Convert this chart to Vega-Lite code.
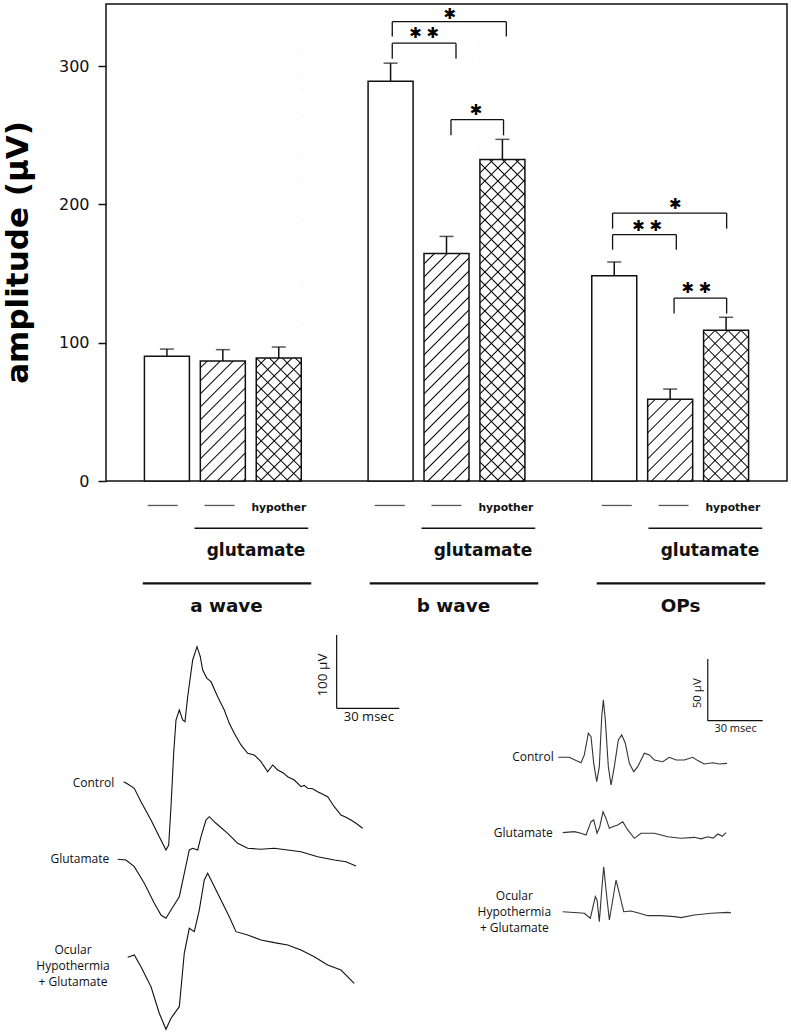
{
"$schema":"https://vega.github.io/schema/vega-lite/v6.json",
"background":"white",
"padding":{"left":1,"top":3,"right":4,"bottom":4},
"bounds":"flush",
"spacing":0,
"config":{"view":{"stroke":null},"text":{"font":"DejaVu Sans","color":"#111"}},
"datasets":{
"bars":[
{"wave":"a wave","cond":"control","pos":1,"mean":90.2,"upper":95.4},
{"wave":"a wave","cond":"glutamate","pos":2,"mean":86.8,"upper":95.0},
{"wave":"a wave","cond":"hypothermia","pos":3,"mean":88.9,"upper":96.9},
{"wave":"b wave","cond":"control","pos":5,"mean":289.2,"upper":302.2},
{"wave":"b wave","cond":"glutamate","pos":6,"mean":164.6,"upper":176.9},
{"wave":"b wave","cond":"hypothermia","pos":7,"mean":232.6,"upper":247.1},
{"wave":"OPs","cond":"control","pos":9,"mean":148.5,"upper":158.4},
{"wave":"OPs","cond":"glutamate","pos":10,"mean":59.1,"upper":66.5},
{"wave":"OPs","cond":"hypothermia","pos":11,"mean":109.0,"upper":118.4}
],
"brackets":[
{"start":5.03,"end":7.07,"h":332.2,"low":321.5},
{"start":5.03,"end":6.17,"h":316.7,"low":305.4},
{"start":6.08,"end":7.02,"h":261.3,"low":250.0},
{"start":8.97,"end":11.01,"h":193.8,"low":182.5},
{"start":8.97,"end":10.11,"h":178.2,"low":167.3},
{"start":10.07,"end":11.01,"h":132.3,"low":121.1}
],
"stars":[
{"x":6.06,"y":337.5,"label":"✱"},
{"x":5.60,"y":324.0,"label":"✱ ✱"},
{"x":6.53,"y":268.5,"label":"✱"},
{"x":10.09,"y":200.6,"label":"✱"},
{"x":9.59,"y":184.7,"label":"✱ ✱"},
{"x":10.47,"y":139.8,"label":"✱ ✱"}
],
"groups":[
{"group":"a wave","ctrl":1,"glu":2,"hyp":3},
{"group":"b wave","ctrl":5,"glu":6,"hyp":7},
{"group":"OPs","ctrl":9,"glu":10,"hyp":11}
],
"erg":[
{"trace":"Control","t":8.48,"v":338.6},{"trace":"Control","t":10.40,"v":335.5},{"trace":"Control","t":13.56,"v":329.6},{"trace":"Control","t":16.77,"v":311.3},{"trace":"Control","t":21.57,"v":286.4},{"trace":"Control","t":25.54,"v":263.6},{"trace":"Control","t":28.75,"v":245.5},{"trace":"Control","t":30.05,"v":252.3},{"trace":"Control","t":31.15,"v":304.5},{"trace":"Control","t":32.44,"v":377.3},{"trace":"Control","t":33.55,"v":422.7},{"trace":"Control","t":35.13,"v":436.4},{"trace":"Control","t":36.76,"v":422.7},{"trace":"Control","t":37.86,"v":420.4},{"trace":"Control","t":39.15,"v":454.5},{"trace":"Control","t":41.55,"v":504.6},{"trace":"Control","t":43.61,"v":522.7},{"trace":"Control","t":45.19,"v":509.1},{"trace":"Control","t":46.34,"v":490.9},{"trace":"Control","t":48.40,"v":479.6},{"trace":"Control","t":50.32,"v":475.0},{"trace":"Control","t":53.53,"v":454.5},{"trace":"Control","t":56.69,"v":436.4},{"trace":"Control","t":59.09,"v":418.2},{"trace":"Control","t":61.48,"v":404.6},{"trace":"Control","t":64.70,"v":388.7},{"trace":"Control","t":67.91,"v":377.3},{"trace":"Control","t":71.07,"v":375.0},{"trace":"Control","t":74.28,"v":365.9},{"trace":"Control","t":77.49,"v":352.2},{"trace":"Control","t":79.89,"v":361.4},{"trace":"Control","t":82.28,"v":354.6},{"trace":"Control","t":84.6,"v":351.2},{"trace":"Control","t":85.7,"v":348.9},{"trace":"Control","t":87.08,"v":345.4},{"trace":"Control","t":90.24,"v":340.9},{"trace":"Control","t":93.45,"v":331.8},{"trace":"Control","t":95.0,"v":333.5},{"trace":"Control","t":96.66,"v":329.6},{"trace":"Control","t":99.0,"v":329.0},{"trace":"Control","t":101.45,"v":325.0},{"trace":"Control","t":106.25,"v":318.2},{"trace":"Control","t":109.41,"v":304.5},{"trace":"Control","t":112.62,"v":293.2},{"trace":"Control","t":115.0,"v":290.0},{"trace":"Control","t":117.41,"v":286.4},{"trace":"Control","t":120.0,"v":281.5},{"trace":"Control","t":123.02,"v":275.1},
{"trace":"Glutamate","t":5.61,"v":232.8},{"trace":"Glutamate","t":9.58,"v":231.8},{"trace":"Glutamate","t":13.56,"v":222.7},{"trace":"Glutamate","t":18.35,"v":200.1},{"trace":"Glutamate","t":23.15,"v":172.8},{"trace":"Glutamate","t":26.36,"v":156.8},{"trace":"Glutamate","t":28.75,"v":152.3},{"trace":"Glutamate","t":31.15,"v":163.6},{"trace":"Glutamate","t":35.13,"v":181.8},{"trace":"Glutamate","t":37.52,"v":213.7},{"trace":"Glutamate","t":39.92,"v":245.5},{"trace":"Glutamate","t":41.55,"v":247.8},{"trace":"Glutamate","t":43.95,"v":245.5},{"trace":"Glutamate","t":45.53,"v":263.6},{"trace":"Glutamate","t":47.92,"v":286.4},{"trace":"Glutamate","t":49.50,"v":290.9},{"trace":"Glutamate","t":52.72,"v":281.9},{"trace":"Glutamate","t":58.32,"v":268.2},{"trace":"Glutamate","t":63.11,"v":254.6},{"trace":"Glutamate","t":67.91,"v":247.8},{"trace":"Glutamate","t":74.28,"v":246.4},{"trace":"Glutamate","t":80.65,"v":247.8},{"trace":"Glutamate","t":87.08,"v":245.5},{"trace":"Glutamate","t":93.45,"v":243.1},{"trace":"Glutamate","t":101.45,"v":236.3},{"trace":"Glutamate","t":109.41,"v":231.8},{"trace":"Glutamate","t":115.02,"v":229.5},{"trace":"Glutamate","t":119.81,"v":223.6},
{"trace":"Hypothermia","t":10.40,"v":99.1},{"trace":"Hypothermia","t":13.56,"v":102.3},{"trace":"Hypothermia","t":16.77,"v":86.3},{"trace":"Hypothermia","t":21.57,"v":59.0},{"trace":"Hypothermia","t":25.54,"v":22.8},{"trace":"Hypothermia","t":28.75,"v":1.0},{"trace":"Hypothermia","t":31.15,"v":16.0},{"trace":"Hypothermia","t":35.13,"v":31.8},{"trace":"Hypothermia","t":37.52,"v":104.6},{"trace":"Hypothermia","t":39.92,"v":138.7},{"trace":"Hypothermia","t":42.32,"v":134.1},{"trace":"Hypothermia","t":44.71,"v":163.6},{"trace":"Hypothermia","t":47.11,"v":204.6},{"trace":"Hypothermia","t":48.74,"v":213.7},{"trace":"Hypothermia","t":51.13,"v":200.1},{"trace":"Hypothermia","t":55.11,"v":177.3},{"trace":"Hypothermia","t":59.09,"v":154.5},{"trace":"Hypothermia","t":62.30,"v":134.1},{"trace":"Hypothermia","t":67.91,"v":129.6},{"trace":"Hypothermia","t":74.28,"v":122.7},{"trace":"Hypothermia","t":80.65,"v":119.1},{"trace":"Hypothermia","t":87.08,"v":115.9},{"trace":"Hypothermia","t":93.45,"v":109.1},{"trace":"Hypothermia","t":99.82,"v":100.0},{"trace":"Hypothermia","t":106.25,"v":88.6},{"trace":"Hypothermia","t":112.62,"v":81.8},{"trace":"Hypothermia","t":118.99,"v":63.7}
],
"erg_bar":[{"t0":110.56,"t1":140.56,"v0":438.7,"v1":538.7}],
"erg_text":[{"t":3.98,"v":337.2,"label":"Control"},{"t":1.58,"v":232.8,"label":"Glutamate"}],
"erg_multi":[{"t":-15.8,"v":109.1,"label":"Ocular\nHypothermia\n+ Glutamate"}],
"ops":[
{"trace":"Control","t":47.62,"v":221.1},{"trace":"Control","t":53.62,"v":221.1},{"trace":"Control","t":57.27,"v":218.4},{"trace":"Control","t":60.00,"v":216.7},{"trace":"Control","t":61.80,"v":223.0},{"trace":"Control","t":63.98,"v":240.6},{"trace":"Control","t":65.45,"v":237.8},{"trace":"Control","t":66.93,"v":216.2},{"trace":"Control","t":68.56,"v":201.3},{"trace":"Control","t":69.98,"v":213.5},{"trace":"Control","t":71.29,"v":254.0},{"trace":"Control","t":72.16,"v":267.6},{"trace":"Control","t":73.25,"v":251.4},{"trace":"Control","t":74.89,"v":213.5},{"trace":"Control","t":76.36,"v":198.6},{"trace":"Control","t":78.16,"v":213.5},{"trace":"Control","t":80.35,"v":235.1},{"trace":"Control","t":82.20,"v":239.2},{"trace":"Control","t":84.16,"v":232.5},{"trace":"Control","t":86.35,"v":216.2},{"trace":"Control","t":88.75,"v":209.4},{"trace":"Control","t":90.93,"v":213.5},{"trace":"Control","t":94.53,"v":224.4},{"trace":"Control","t":97.25,"v":223.0},{"trace":"Control","t":99.98,"v":218.9},{"trace":"Control","t":104.56,"v":217.5},{"trace":"Control","t":108.16,"v":221.1},{"trace":"Control","t":111.82,"v":218.9},{"trace":"Control","t":116.35,"v":218.9},{"trace":"Control","t":120.93,"v":221.1},{"trace":"Control","t":123.65,"v":218.4},{"trace":"Control","t":127.25,"v":215.7},{"trace":"Control","t":131.84,"v":216.7},{"trace":"Control","t":135.44,"v":215.7},{"trace":"Control","t":139.64,"v":216.2},
{"trace":"Glutamate","t":50.02,"v":160.0},{"trace":"Glutamate","t":56.35,"v":160.8},{"trace":"Glutamate","t":60.00,"v":159.5},{"trace":"Glutamate","t":62.73,"v":158.1},{"trace":"Glutamate","t":65.45,"v":168.9},{"trace":"Glutamate","t":66.93,"v":170.3},{"trace":"Glutamate","t":68.73,"v":159.5},{"trace":"Glutamate","t":70.20,"v":164.8},{"trace":"Glutamate","t":72.00,"v":177.0},{"trace":"Glutamate","t":73.64,"v":171.6},{"trace":"Glutamate","t":75.44,"v":163.5},{"trace":"Glutamate","t":77.29,"v":164.8},{"trace":"Glutamate","t":80.02,"v":166.2},{"trace":"Glutamate","t":82.75,"v":168.9},{"trace":"Glutamate","t":85.47,"v":162.2},{"trace":"Glutamate","t":89.07,"v":155.4},{"trace":"Glutamate","t":92.73,"v":159.5},{"trace":"Glutamate","t":99.98,"v":159.5},{"trace":"Glutamate","t":107.29,"v":156.7},{"trace":"Glutamate","t":114.55,"v":155.4},{"trace":"Glutamate","t":121.80,"v":156.2},{"trace":"Glutamate","t":125.5,"v":155.0},{"trace":"Glutamate","t":129.11,"v":156.7},{"trace":"Glutamate","t":132.0,"v":155.6},{"trace":"Glutamate","t":134.56,"v":158.9},{"trace":"Glutamate","t":137.0,"v":157.0},{"trace":"Glutamate","t":139.09,"v":160.0},
{"trace":"Hypothermia","t":50.02,"v":95.9},{"trace":"Hypothermia","t":58.20,"v":95.1},{"trace":"Hypothermia","t":61.80,"v":94.6},{"trace":"Hypothermia","t":65.07,"v":90.6},{"trace":"Hypothermia","t":67.80,"v":108.1},{"trace":"Hypothermia","t":68.73,"v":105.4},{"trace":"Hypothermia","t":69.98,"v":87.8},{"trace":"Hypothermia","t":71.29,"v":113.5},{"trace":"Hypothermia","t":72.38,"v":132.4},{"trace":"Hypothermia","t":73.64,"v":113.5},{"trace":"Hypothermia","t":75.44,"v":89.2},{"trace":"Hypothermia","t":77.29,"v":105.4},{"trace":"Hypothermia","t":79.09,"v":121.6},{"trace":"Hypothermia","t":80.89,"v":110.8},{"trace":"Hypothermia","t":83.29,"v":95.9},{"trace":"Hypothermia","t":87.27,"v":96.5},{"trace":"Hypothermia","t":91.80,"v":94.6},{"trace":"Hypothermia","t":96.38,"v":92.7},{"trace":"Hypothermia","t":103.64,"v":92.7},{"trace":"Hypothermia","t":110.89,"v":91.9},{"trace":"Hypothermia","t":114.55,"v":91.1},{"trace":"Hypothermia","t":121.80,"v":93.2},{"trace":"Hypothermia","t":130.91,"v":94.6},{"trace":"Hypothermia","t":140.02,"v":95.4},{"trace":"Hypothermia","t":141.82,"v":95.1}
],
"ops_bar":[{"t0":129.11,"t1":159.11,"v0":250.8,"v1":300.8}],
"ops_text":[{"t":45.11,"v":221.1,"label":"Control"},{"t":44.56,"v":159.5,"label":"Glutamate"}],
"ops_multi":[{"t":23.62,"v":108.9,"label":"Ocular\nHypothermia\n+ Glutamate"}]
},
"vconcat":[
{
"width":681,"height":477,
"view":{"stroke":"#111","strokeWidth":1.5},
"data":{"name":"bars"},
"layer":[
{"transform":[{"filter":"datum.cond === 'control'"}],
"mark":{"type":"bar","width":45,"fill":"white","stroke":"#111","strokeWidth":1.5},
"encoding":{
"x":{"field":"pos","type":"quantitative","scale":{"domain":[0,12],"nice":false,"zero":false},"axis":null},
"y":{"field":"mean","type":"quantitative","scale":{"domain":[0,345],"nice":false},
"axis":{"values":[0,100,200,300],"tickSize":8,"tickWidth":1.5,"tickColor":"#111","domain":false,"grid":false,"labelFont":"DejaVu Sans","labelFontSize":16,"labelColor":"#111","labelPadding":9,"title":"amplitude (μV)","titleFont":"DejaVu Sans","titleFontSize":31,"titleFontWeight":"bold","titleColor":"#000","titlePadding":24,"titleY":248}},
"y2":{"datum":0}}},
{"transform":[{"filter":"datum.cond !== 'control'"}],
"mark":{"type":"bar","width":45,"strokeWidth":0,"fill":{"gradient":"linear","x1":0,"y1":0,"x2":0.1039,"y2":1.0858,"stops":[
{"offset":0.0089,"color":"#fff"},{"offset":0.0116,"color":"#000"},{"offset":0.0143,"color":"#fff"},
{"offset":0.0342,"color":"#fff"},{"offset":0.0369,"color":"#000"},{"offset":0.0396,"color":"#fff"},
{"offset":0.0594,"color":"#fff"},{"offset":0.0621,"color":"#000"},{"offset":0.0648,"color":"#fff"},
{"offset":0.0847,"color":"#fff"},{"offset":0.0874,"color":"#000"},{"offset":0.0901,"color":"#fff"},
{"offset":0.1099,"color":"#fff"},{"offset":0.1126,"color":"#000"},{"offset":0.1153,"color":"#fff"},
{"offset":0.1351,"color":"#fff"},{"offset":0.1378,"color":"#000"},{"offset":0.1405,"color":"#fff"},
{"offset":0.1604,"color":"#fff"},{"offset":0.1631,"color":"#000"},{"offset":0.1658,"color":"#fff"},
{"offset":0.1856,"color":"#fff"},{"offset":0.1883,"color":"#000"},{"offset":0.1910,"color":"#fff"},
{"offset":0.2109,"color":"#fff"},{"offset":0.2136,"color":"#000"},{"offset":0.2163,"color":"#fff"},
{"offset":0.2361,"color":"#fff"},{"offset":0.2388,"color":"#000"},{"offset":0.2415,"color":"#fff"},
{"offset":0.2613,"color":"#fff"},{"offset":0.2640,"color":"#000"},{"offset":0.2667,"color":"#fff"},
{"offset":0.2866,"color":"#fff"},{"offset":0.2893,"color":"#000"},{"offset":0.2920,"color":"#fff"},
{"offset":0.3118,"color":"#fff"},{"offset":0.3145,"color":"#000"},{"offset":0.3172,"color":"#fff"},
{"offset":0.3370,"color":"#fff"},{"offset":0.3397,"color":"#000"},{"offset":0.3424,"color":"#fff"},
{"offset":0.3623,"color":"#fff"},{"offset":0.3650,"color":"#000"},{"offset":0.3677,"color":"#fff"},
{"offset":0.3875,"color":"#fff"},{"offset":0.3902,"color":"#000"},{"offset":0.3929,"color":"#fff"},
{"offset":0.4128,"color":"#fff"},{"offset":0.4155,"color":"#000"},{"offset":0.4182,"color":"#fff"},
{"offset":0.4380,"color":"#fff"},{"offset":0.4407,"color":"#000"},{"offset":0.4434,"color":"#fff"},
{"offset":0.4632,"color":"#fff"},{"offset":0.4659,"color":"#000"},{"offset":0.4686,"color":"#fff"},
{"offset":0.4885,"color":"#fff"},{"offset":0.4912,"color":"#000"},{"offset":0.4939,"color":"#fff"},
{"offset":0.5137,"color":"#fff"},{"offset":0.5164,"color":"#000"},{"offset":0.5191,"color":"#fff"},
{"offset":0.5389,"color":"#fff"},{"offset":0.5416,"color":"#000"},{"offset":0.5443,"color":"#fff"},
{"offset":0.5642,"color":"#fff"},{"offset":0.5669,"color":"#000"},{"offset":0.5696,"color":"#fff"},
{"offset":0.5894,"color":"#fff"},{"offset":0.5921,"color":"#000"},{"offset":0.5948,"color":"#fff"},
{"offset":0.6147,"color":"#fff"},{"offset":0.6174,"color":"#000"},{"offset":0.6201,"color":"#fff"},
{"offset":0.6399,"color":"#fff"},{"offset":0.6426,"color":"#000"},{"offset":0.6453,"color":"#fff"},
{"offset":0.6651,"color":"#fff"},{"offset":0.6678,"color":"#000"},{"offset":0.6705,"color":"#fff"},
{"offset":0.6904,"color":"#fff"},{"offset":0.6931,"color":"#000"},{"offset":0.6958,"color":"#fff"},
{"offset":0.7156,"color":"#fff"},{"offset":0.7183,"color":"#000"},{"offset":0.7210,"color":"#fff"},
{"offset":0.7408,"color":"#fff"},{"offset":0.7435,"color":"#000"},{"offset":0.7462,"color":"#fff"},
{"offset":0.7661,"color":"#fff"},{"offset":0.7688,"color":"#000"},{"offset":0.7715,"color":"#fff"},
{"offset":0.7913,"color":"#fff"},{"offset":0.7940,"color":"#000"},{"offset":0.7967,"color":"#fff"},
{"offset":0.8166,"color":"#fff"},{"offset":0.8193,"color":"#000"},{"offset":0.8220,"color":"#fff"},
{"offset":0.8418,"color":"#fff"},{"offset":0.8445,"color":"#000"},{"offset":0.8472,"color":"#fff"},
{"offset":0.8670,"color":"#fff"},{"offset":0.8697,"color":"#000"},{"offset":0.8724,"color":"#fff"},
{"offset":0.8923,"color":"#fff"},{"offset":0.8950,"color":"#000"},{"offset":0.8977,"color":"#fff"},
{"offset":0.9175,"color":"#fff"},{"offset":0.9202,"color":"#000"},{"offset":0.9229,"color":"#fff"},
{"offset":0.9427,"color":"#fff"},{"offset":0.9454,"color":"#000"},{"offset":0.9481,"color":"#fff"},
{"offset":0.9680,"color":"#fff"},{"offset":0.9707,"color":"#000"},{"offset":0.9734,"color":"#fff"},
{"offset":0.9932,"color":"#fff"},{"offset":0.9959,"color":"#000"},{"offset":0.9986,"color":"#fff"}
]}},
"encoding":{
"x":{"field":"pos","type":"quantitative","axis":null},
"y":{"datum":0,"type":"quantitative"},
"y2":{"datum":340}}},
{"transform":[{"filter":"datum.cond === 'hypothermia'"}],
"mark":{"type":"bar","width":45,"strokeWidth":0,"fill":{"gradient":"linear","x1":0,"y1":1,"x2":0.1039,"y2":-0.0858,"stops":[
{"offset":0.0089,"color":"rgba(0,0,0,0)"},{"offset":0.0116,"color":"#000"},{"offset":0.0143,"color":"rgba(0,0,0,0)"},
{"offset":0.0342,"color":"rgba(0,0,0,0)"},{"offset":0.0369,"color":"#000"},{"offset":0.0396,"color":"rgba(0,0,0,0)"},
{"offset":0.0594,"color":"rgba(0,0,0,0)"},{"offset":0.0621,"color":"#000"},{"offset":0.0648,"color":"rgba(0,0,0,0)"},
{"offset":0.0847,"color":"rgba(0,0,0,0)"},{"offset":0.0874,"color":"#000"},{"offset":0.0901,"color":"rgba(0,0,0,0)"},
{"offset":0.1099,"color":"rgba(0,0,0,0)"},{"offset":0.1126,"color":"#000"},{"offset":0.1153,"color":"rgba(0,0,0,0)"},
{"offset":0.1351,"color":"rgba(0,0,0,0)"},{"offset":0.1378,"color":"#000"},{"offset":0.1405,"color":"rgba(0,0,0,0)"},
{"offset":0.1604,"color":"rgba(0,0,0,0)"},{"offset":0.1631,"color":"#000"},{"offset":0.1658,"color":"rgba(0,0,0,0)"},
{"offset":0.1856,"color":"rgba(0,0,0,0)"},{"offset":0.1883,"color":"#000"},{"offset":0.1910,"color":"rgba(0,0,0,0)"},
{"offset":0.2109,"color":"rgba(0,0,0,0)"},{"offset":0.2136,"color":"#000"},{"offset":0.2163,"color":"rgba(0,0,0,0)"},
{"offset":0.2361,"color":"rgba(0,0,0,0)"},{"offset":0.2388,"color":"#000"},{"offset":0.2415,"color":"rgba(0,0,0,0)"},
{"offset":0.2613,"color":"rgba(0,0,0,0)"},{"offset":0.2640,"color":"#000"},{"offset":0.2667,"color":"rgba(0,0,0,0)"},
{"offset":0.2866,"color":"rgba(0,0,0,0)"},{"offset":0.2893,"color":"#000"},{"offset":0.2920,"color":"rgba(0,0,0,0)"},
{"offset":0.3118,"color":"rgba(0,0,0,0)"},{"offset":0.3145,"color":"#000"},{"offset":0.3172,"color":"rgba(0,0,0,0)"},
{"offset":0.3370,"color":"rgba(0,0,0,0)"},{"offset":0.3397,"color":"#000"},{"offset":0.3424,"color":"rgba(0,0,0,0)"},
{"offset":0.3623,"color":"rgba(0,0,0,0)"},{"offset":0.3650,"color":"#000"},{"offset":0.3677,"color":"rgba(0,0,0,0)"},
{"offset":0.3875,"color":"rgba(0,0,0,0)"},{"offset":0.3902,"color":"#000"},{"offset":0.3929,"color":"rgba(0,0,0,0)"},
{"offset":0.4128,"color":"rgba(0,0,0,0)"},{"offset":0.4155,"color":"#000"},{"offset":0.4182,"color":"rgba(0,0,0,0)"},
{"offset":0.4380,"color":"rgba(0,0,0,0)"},{"offset":0.4407,"color":"#000"},{"offset":0.4434,"color":"rgba(0,0,0,0)"},
{"offset":0.4632,"color":"rgba(0,0,0,0)"},{"offset":0.4659,"color":"#000"},{"offset":0.4686,"color":"rgba(0,0,0,0)"},
{"offset":0.4885,"color":"rgba(0,0,0,0)"},{"offset":0.4912,"color":"#000"},{"offset":0.4939,"color":"rgba(0,0,0,0)"},
{"offset":0.5137,"color":"rgba(0,0,0,0)"},{"offset":0.5164,"color":"#000"},{"offset":0.5191,"color":"rgba(0,0,0,0)"},
{"offset":0.5389,"color":"rgba(0,0,0,0)"},{"offset":0.5416,"color":"#000"},{"offset":0.5443,"color":"rgba(0,0,0,0)"},
{"offset":0.5642,"color":"rgba(0,0,0,0)"},{"offset":0.5669,"color":"#000"},{"offset":0.5696,"color":"rgba(0,0,0,0)"},
{"offset":0.5894,"color":"rgba(0,0,0,0)"},{"offset":0.5921,"color":"#000"},{"offset":0.5948,"color":"rgba(0,0,0,0)"},
{"offset":0.6147,"color":"rgba(0,0,0,0)"},{"offset":0.6174,"color":"#000"},{"offset":0.6201,"color":"rgba(0,0,0,0)"},
{"offset":0.6399,"color":"rgba(0,0,0,0)"},{"offset":0.6426,"color":"#000"},{"offset":0.6453,"color":"rgba(0,0,0,0)"},
{"offset":0.6651,"color":"rgba(0,0,0,0)"},{"offset":0.6678,"color":"#000"},{"offset":0.6705,"color":"rgba(0,0,0,0)"},
{"offset":0.6904,"color":"rgba(0,0,0,0)"},{"offset":0.6931,"color":"#000"},{"offset":0.6958,"color":"rgba(0,0,0,0)"},
{"offset":0.7156,"color":"rgba(0,0,0,0)"},{"offset":0.7183,"color":"#000"},{"offset":0.7210,"color":"rgba(0,0,0,0)"},
{"offset":0.7408,"color":"rgba(0,0,0,0)"},{"offset":0.7435,"color":"#000"},{"offset":0.7462,"color":"rgba(0,0,0,0)"},
{"offset":0.7661,"color":"rgba(0,0,0,0)"},{"offset":0.7688,"color":"#000"},{"offset":0.7715,"color":"rgba(0,0,0,0)"},
{"offset":0.7913,"color":"rgba(0,0,0,0)"},{"offset":0.7940,"color":"#000"},{"offset":0.7967,"color":"rgba(0,0,0,0)"},
{"offset":0.8166,"color":"rgba(0,0,0,0)"},{"offset":0.8193,"color":"#000"},{"offset":0.8220,"color":"rgba(0,0,0,0)"},
{"offset":0.8418,"color":"rgba(0,0,0,0)"},{"offset":0.8445,"color":"#000"},{"offset":0.8472,"color":"rgba(0,0,0,0)"},
{"offset":0.8670,"color":"rgba(0,0,0,0)"},{"offset":0.8697,"color":"#000"},{"offset":0.8724,"color":"rgba(0,0,0,0)"},
{"offset":0.8923,"color":"rgba(0,0,0,0)"},{"offset":0.8950,"color":"#000"},{"offset":0.8977,"color":"rgba(0,0,0,0)"},
{"offset":0.9175,"color":"rgba(0,0,0,0)"},{"offset":0.9202,"color":"#000"},{"offset":0.9229,"color":"rgba(0,0,0,0)"},
{"offset":0.9427,"color":"rgba(0,0,0,0)"},{"offset":0.9454,"color":"#000"},{"offset":0.9481,"color":"rgba(0,0,0,0)"},
{"offset":0.9680,"color":"rgba(0,0,0,0)"},{"offset":0.9707,"color":"#000"},{"offset":0.9734,"color":"rgba(0,0,0,0)"},
{"offset":0.9932,"color":"rgba(0,0,0,0)"},{"offset":0.9959,"color":"#000"},{"offset":0.9986,"color":"rgba(0,0,0,0)"}
]}},
"encoding":{
"x":{"field":"pos","type":"quantitative","axis":null},
"y":{"datum":0,"type":"quantitative"},
"y2":{"datum":340}}},
{"transform":[{"filter":"datum.cond !== 'control'"}],
"mark":{"type":"bar","width":46,"fill":"white","strokeWidth":0},
"encoding":{
"x":{"field":"pos","type":"quantitative","axis":null},
"y":{"field":"mean","type":"quantitative"},
"y2":{"datum":340}}},
{"transform":[{"filter":"datum.cond !== 'control'"}],
"mark":{"type":"bar","width":45,"filled":false,"stroke":"#111","strokeWidth":1.5},
"encoding":{
"x":{"field":"pos","type":"quantitative","axis":null},
"y":{"field":"mean","type":"quantitative"},
"y2":{"datum":0}}},
{"mark":{"type":"rule","color":"#111","strokeWidth":1.5},
"encoding":{
"x":{"field":"pos","type":"quantitative","axis":null},
"y":{"field":"mean","type":"quantitative"},
"y2":{"field":"upper"}}},
{"mark":{"type":"tick","orient":"horizontal","size":14,"thickness":1.5,"color":"#111"},
"encoding":{
"x":{"field":"pos","type":"quantitative","axis":null},
"y":{"field":"upper","type":"quantitative"}}},
{"data":{"name":"brackets"},
"mark":{"type":"rule","color":"#111","strokeWidth":1.3},
"encoding":{
"x":{"field":"start","type":"quantitative","axis":null},
"x2":{"field":"end"},
"y":{"field":"h","type":"quantitative"}}},
{"data":{"name":"brackets"},
"mark":{"type":"rule","color":"#111","strokeWidth":1.3},
"encoding":{
"x":{"field":"start","type":"quantitative","axis":null},
"y":{"field":"h","type":"quantitative"},
"y2":{"field":"low"}}},
{"data":{"name":"brackets"},
"mark":{"type":"rule","color":"#111","strokeWidth":1.3},
"encoding":{
"x":{"field":"end","type":"quantitative","axis":null},
"y":{"field":"h","type":"quantitative"},
"y2":{"field":"low"}}},
{"data":{"name":"stars"},
"mark":{"type":"text","font":"DejaVu Sans","fontSize":15,"baseline":"middle","align":"center","color":"#000"},
"encoding":{
"x":{"field":"x","type":"quantitative","axis":null},
"y":{"field":"y","type":"quantitative"},
"text":{"field":"label"}}}
]
},
{
"width":681,"height":139,
"view":{"stroke":null},
"data":{"name":"groups"},
"layer":[
{"mark":{"type":"tick","orient":"horizontal","size":30,"thickness":1.3,"color":"#111"},
"encoding":{
"x":{"field":"ctrl","type":"quantitative","scale":{"domain":[0,12],"nice":false,"zero":false},"axis":null},
"y":{"datum":1.76,"type":"quantitative","scale":{"domain":[0,10],"reverse":true,"nice":false,"zero":false},"axis":null}}},
{"mark":{"type":"tick","orient":"horizontal","size":30,"thickness":1.3,"color":"#111"},
"encoding":{
"x":{"field":"glu","type":"quantitative","axis":null},
"y":{"datum":1.76,"type":"quantitative","axis":null}}},
{"mark":{"type":"text","font":"DejaVu Sans","fontWeight":"bold","fontSize":10.7,"align":"right","baseline":"middle","dx":30,"color":"#111"},
"encoding":{
"x":{"field":"hyp","type":"quantitative","axis":null},
"y":{"datum":1.92,"type":"quantitative","axis":null},
"text":{"value":"hypother"}}},
{"mark":{"type":"rule","color":"#111","strokeWidth":1.5,"xOffset":-25,"x2Offset":32},
"encoding":{
"x":{"field":"glu","type":"quantitative","axis":null},
"x2":{"field":"hyp"},
"y":{"datum":3.40,"type":"quantitative","axis":null}}},
{"mark":{"type":"text","font":"DejaVu Sans","fontWeight":"bold","fontSize":17,"align":"right","baseline":"middle","dx":29,"color":"#111"},
"encoding":{
"x":{"field":"hyp","type":"quantitative","axis":null},
"y":{"datum":5.04,"type":"quantitative","axis":null},
"text":{"value":"glutamate"}}},
{"mark":{"type":"rule","color":"#111","strokeWidth":2.2,"xOffset":-20,"x2Offset":35},
"encoding":{
"x":{"field":"ctrl","type":"quantitative","axis":null},
"x2":{"field":"hyp"},
"y":{"datum":7.37,"type":"quantitative","axis":null}}},
{"mark":{"type":"text","font":"DejaVu Sans","fontWeight":"bold","fontSize":18.4,"align":"center","baseline":"middle","dx":7,"color":"#111"},
"encoding":{
"x":{"field":"glu","type":"quantitative","axis":null},
"y":{"datum":8.99,"type":"quantitative","axis":null},
"text":{"field":"group"}}}
]
},
{
"bounds":"flush",
"spacing":70,
"hconcat":[
{
"width":295,"height":410,
"view":{"stroke":null},
"layer":[
{"data":{"name":"erg"},
"mark":{"type":"line","color":"#111","strokeWidth":1.1},
"encoding":{
"x":{"field":"t","type":"quantitative","scale":{"domain":[0,141.4],"nice":false,"zero":false},"axis":null},
"y":{"field":"v","type":"quantitative","scale":{"domain":[0,559.1],"nice":false,"zero":false},"axis":null},
"detail":{"field":"trace"}}},
{"data":{"name":"erg_bar"},
"mark":{"type":"rule","color":"#111","strokeWidth":1.2},
"encoding":{
"x":{"field":"t0","type":"quantitative","axis":null},
"y":{"field":"v0","type":"quantitative","axis":null},
"y2":{"field":"v1"}}},
{"data":{"name":"erg_bar"},
"mark":{"type":"rule","color":"#111","strokeWidth":1.2},
"encoding":{
"x":{"field":"t0","type":"quantitative","axis":null},
"x2":{"field":"t1"},
"y":{"field":"v0","type":"quantitative","axis":null}}},
{"data":{"values":[{"t":104.2,"v":484,"label":"100 μV"}]},
"mark":{"type":"text","font":"Open Sans","fontSize":13.5,"angle":270,"align":"center","baseline":"middle","color":"#111"},
"encoding":{
"x":{"field":"t","type":"quantitative","axis":null},
"y":{"field":"v","type":"quantitative","axis":null},
"text":{"field":"label"}}},
{"data":{"values":[{"t":126.0,"v":426.8,"label":"30 msec"}]},
"mark":{"type":"text","font":"Open Sans","fontSize":13,"align":"center","baseline":"middle","color":"#111"},
"encoding":{
"x":{"field":"t","type":"quantitative","axis":null},
"y":{"field":"v","type":"quantitative","axis":null},
"text":{"field":"label"}}},
{"data":{"name":"erg_text"},
"mark":{"type":"text","font":"Open Sans","fontSize":12,"align":"right","baseline":"middle","color":"#111"},
"encoding":{
"x":{"field":"t","type":"quantitative","axis":null},
"y":{"field":"v","type":"quantitative","axis":null},
"text":{"field":"label"}}},
{"data":{"name":"erg_multi"},
"mark":{"type":"text","font":"Open Sans","fontSize":12,"align":"center","baseline":"middle","lineBreak":"\n","lineHeight":16,"color":"#111"},
"encoding":{
"x":{"field":"t","type":"quantitative","axis":null},
"y":{"field":"v","type":"quantitative","axis":null},
"text":{"field":"label"}}}
]
},
{
"width":300,"height":410,
"view":{"stroke":null},
"layer":[
{"data":{"name":"ops"},
"mark":{"type":"line","color":"#333","strokeWidth":1.1},
"encoding":{
"x":{"field":"t","type":"quantitative","scale":{"domain":[0,163.6],"nice":false,"zero":false},"axis":null},
"y":{"field":"v","type":"quantitative","scale":{"domain":[0,332.4],"nice":false,"zero":false},"axis":null},
"detail":{"field":"trace"}}},
{"data":{"name":"ops_bar"},
"mark":{"type":"rule","color":"#111","strokeWidth":1.2},
"encoding":{
"x":{"field":"t0","type":"quantitative","axis":null},
"y":{"field":"v0","type":"quantitative","axis":null},
"y2":{"field":"v1"}}},
{"data":{"name":"ops_bar"},
"mark":{"type":"rule","color":"#111","strokeWidth":1.2},
"encoding":{
"x":{"field":"t0","type":"quantitative","axis":null},
"x2":{"field":"t1"},
"y":{"field":"v0","type":"quantitative","axis":null}}},
{"data":{"values":[{"t":123.65,"v":273.0,"label":"50 μV"}]},
"mark":{"type":"text","font":"Open Sans","fontSize":11.5,"angle":270,"align":"center","baseline":"middle","color":"#111"},
"encoding":{
"x":{"field":"t","type":"quantitative","axis":null},
"y":{"field":"v","type":"quantitative","axis":null},
"text":{"field":"label"}}},
{"data":{"values":[{"t":144.27,"v":243.8,"label":"30 msec"}]},
"mark":{"type":"text","font":"Open Sans","fontSize":11,"align":"center","baseline":"middle","color":"#111"},
"encoding":{
"x":{"field":"t","type":"quantitative","axis":null},
"y":{"field":"v","type":"quantitative","axis":null},
"text":{"field":"label"}}},
{"data":{"name":"ops_text"},
"mark":{"type":"text","font":"Open Sans","fontSize":12,"align":"right","baseline":"middle","color":"#111"},
"encoding":{
"x":{"field":"t","type":"quantitative","axis":null},
"y":{"field":"v","type":"quantitative","axis":null},
"text":{"field":"label"}}},
{"data":{"name":"ops_multi"},
"mark":{"type":"text","font":"Open Sans","fontSize":12,"align":"center","baseline":"middle","lineBreak":"\n","lineHeight":16.3,"color":"#111"},
"encoding":{
"x":{"field":"t","type":"quantitative","axis":null},
"y":{"field":"v","type":"quantitative","axis":null},
"text":{"field":"label"}}}
]
}
]
}
]
}
